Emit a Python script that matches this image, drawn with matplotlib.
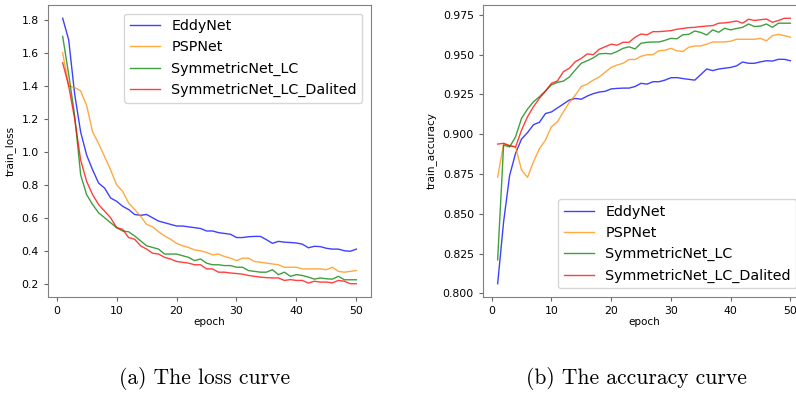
import matplotlib
matplotlib.use('Agg')
import matplotlib.pyplot as plt
import numpy as np

epochs = np.arange(1, 51)
names = ['EddyNet', 'PSPNet', 'SymmetricNet_LC', 'SymmetricNet_LC_Dalited']

loss_eddy = [1.81, 1.68, 1.35, 1.12, 0.98, 0.89, 0.81, 0.78, 0.72, 0.70,
             0.67, 0.65, 0.62, 0.615, 0.62, 0.60, 0.58, 0.57, 0.56, 0.55,
             0.55, 0.545, 0.54, 0.535, 0.52, 0.52, 0.51, 0.505, 0.50, 0.48,
             0.48, 0.485, 0.487, 0.487, 0.467, 0.445, 0.457, 0.452, 0.45, 0.447,
             0.44, 0.418, 0.427, 0.425, 0.415, 0.41, 0.41, 0.40, 0.397, 0.41]
loss_psp = [1.60, 1.40, 1.39, 1.37, 1.28, 1.12, 1.05, 0.97, 0.89, 0.80,
            0.76, 0.69, 0.65, 0.61, 0.56, 0.545, 0.515, 0.49, 0.47, 0.445,
            0.43, 0.42, 0.405, 0.40, 0.39, 0.375, 0.38, 0.365, 0.355, 0.34,
            0.355, 0.355, 0.335, 0.33, 0.325, 0.32, 0.315, 0.30, 0.30, 0.30,
            0.29, 0.29, 0.29, 0.29, 0.285, 0.30, 0.275, 0.27, 0.275, 0.28]
loss_lc = [1.70, 1.47, 1.22, 0.86, 0.74, 0.68, 0.63, 0.60, 0.57, 0.54,
           0.52, 0.515, 0.49, 0.46, 0.43, 0.42, 0.41, 0.38, 0.38, 0.38,
           0.37, 0.36, 0.34, 0.35, 0.325, 0.315, 0.315, 0.31, 0.31, 0.30,
           0.30, 0.28, 0.275, 0.27, 0.27, 0.285, 0.255, 0.27, 0.245, 0.255,
           0.25, 0.24, 0.228, 0.235, 0.23, 0.228, 0.245, 0.224, 0.224, 0.224]
loss_dal = [1.54, 1.40, 1.20, 0.95, 0.82, 0.74, 0.68, 0.64, 0.60, 0.54,
            0.53, 0.48, 0.47, 0.43, 0.41, 0.385, 0.38, 0.36, 0.35, 0.335,
            0.33, 0.325, 0.315, 0.315, 0.29, 0.29, 0.27, 0.27, 0.265, 0.262,
            0.258, 0.25, 0.245, 0.24, 0.237, 0.235, 0.235, 0.22, 0.225, 0.22,
            0.22, 0.204, 0.215, 0.21, 0.21, 0.205, 0.22, 0.215, 0.20, 0.20]

acc_eddy = [0.806, 0.845, 0.874, 0.888, 0.897, 0.901, 0.906, 0.9075, 0.913, 0.914,
            0.9165, 0.919, 0.9215, 0.9225, 0.922, 0.924, 0.9255, 0.9265, 0.927, 0.9285,
            0.9288, 0.929, 0.929, 0.930, 0.932, 0.9315, 0.933, 0.933, 0.934, 0.9355,
            0.9356, 0.935, 0.9345, 0.934, 0.9375, 0.941, 0.940, 0.941, 0.9415, 0.942,
            0.943, 0.9454, 0.9446, 0.9446, 0.9455, 0.9462, 0.946, 0.9471, 0.9471, 0.9462]
acc_psp = [0.873, 0.894, 0.8928, 0.892, 0.8775, 0.8729, 0.8827, 0.891, 0.8963, 0.9047,
           0.9078, 0.914, 0.920, 0.9246, 0.930, 0.9315, 0.934, 0.936, 0.939, 0.942,
           0.9435, 0.9446, 0.947, 0.947, 0.949, 0.950, 0.950, 0.9525, 0.9528, 0.954,
           0.9525, 0.952, 0.9547, 0.9555, 0.9555, 0.9566, 0.958, 0.958, 0.958, 0.9585,
           0.9597, 0.9597, 0.9597, 0.9597, 0.9603, 0.9587, 0.962, 0.9628, 0.962, 0.961]
acc_lc = [0.821, 0.8932, 0.892, 0.8984, 0.910, 0.9158, 0.9204, 0.9236, 0.9272, 0.931,
          0.9326, 0.9334, 0.936, 0.9404, 0.9446, 0.9462, 0.948, 0.9505, 0.9508, 0.9505,
          0.952, 0.954, 0.955, 0.9536, 0.9572, 0.9578, 0.958, 0.958, 0.959, 0.9603,
          0.960, 0.9625, 0.9628, 0.9649, 0.964, 0.9624, 0.9656, 0.9641, 0.9666, 0.9656,
          0.9665, 0.9672, 0.9693, 0.9677, 0.968, 0.9693, 0.9672, 0.9698, 0.9698, 0.9698]
acc_dal = [0.8938, 0.8943, 0.8928, 0.892, 0.9026, 0.911, 0.9173, 0.9226, 0.927, 0.932,
           0.9335, 0.9393, 0.9415, 0.9456, 0.9477, 0.9505, 0.950, 0.9534, 0.955, 0.9566,
           0.956, 0.9578, 0.9578, 0.961, 0.963, 0.9625, 0.9645, 0.9645, 0.9648, 0.9651,
           0.966, 0.9665, 0.967, 0.9672, 0.9677, 0.968, 0.9683, 0.9698, 0.970, 0.9705,
           0.9712, 0.9698, 0.9723, 0.9715, 0.972, 0.9724, 0.9704, 0.9715, 0.9729, 0.9729]

colors = ['blue', 'darkorange', 'green', 'red']

fig = plt.figure(figsize=(7.96, 3.94), dpi=100)
ax1 = fig.add_axes([0.0603, 0.2462, 0.4058, 0.7411])
ax2 = fig.add_axes([0.6068, 0.2462, 0.4045, 0.7411])

for ax, series, ylab in [(ax1, [loss_eddy, loss_psp, loss_lc, loss_dal], 'train_loss'),
                         (ax2, [acc_eddy, acc_psp, acc_lc, acc_dal], 'train_accuracy')]:
    for ys, c, n in zip(series, colors, names):
        ax.plot(epochs, ys, color=c, lw=1.0, alpha=0.75, label=n)
    ax.set_xlabel('epoch', fontsize=7.5, labelpad=1)
    ax.set_ylabel(ylab, fontsize=7.5)
    ax.tick_params(labelsize=7.8, length=3, color='0.4')
    for s in ax.spines.values():
        s.set_color('0.5')

ax1.set_xticks([0, 10, 20, 30, 40, 50])
ax2.set_xticks([0, 10, 20, 30, 40, 50])
ax2.set_yticks([0.800, 0.825, 0.850, 0.875, 0.900, 0.925, 0.950, 0.975])
ax2.set_yticklabels(['0.800', '0.825', '0.850', '0.875', '0.900', '0.925', '0.950', '0.975'])

ax1.legend(loc='upper right', fontsize=10.3, handlelength=2.1, borderaxespad=0.6)
ax2.legend(loc='lower right', fontsize=10.3, handlelength=2.1, borderaxespad=0.6)

fig.text(0.257, 0.04, '(a) The loss curve', ha='center', va='center',
         fontsize=15.5, family='cmr10')
fig.text(0.80, 0.04, '(b) The accuracy curve', ha='center', va='center',
         fontsize=15.5, family='cmr10')

fig.savefig('out.png', dpi=100)
